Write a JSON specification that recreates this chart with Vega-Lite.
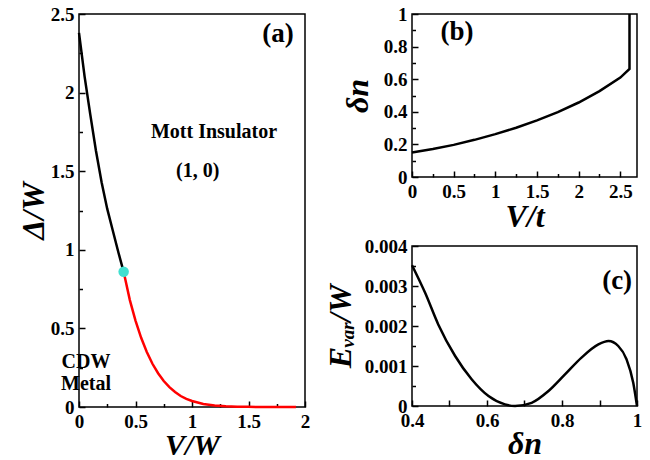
{
  "$schema": "https://vega.github.io/schema/vega-lite/v6.json",
  "background": "white",
  "padding": {"left": 16, "top": 4, "right": 6, "bottom": 0},
  "spacing": 12,
  "config": {
    "font": "Liberation Serif",
    "view": {"stroke": "black", "strokeWidth": 1.5},
    "axis": {"labelFont": "Liberation Serif", "labelFontSize": 19, "labelFontWeight": "bold", "labelColor": "black",
      "labelOverlap": false, "labelFlush": false, "labelPadding": 5, "tickSize": 6, "offset": -6, "tickColor": "black", "tickWidth": 1.5,
      "domain": false, "grid": false,
      "titleColor": "black", "titleFont": "Liberation Serif", "titleFontSize": 32, "titleFontWeight": "bold", "titleFontStyle": "italic"},
    "text": {"font": "Liberation Serif", "fontWeight": "bold", "color": "black"}
  },
  "hconcat": [
    {
      "width": 226,
      "height": 393,
      "resolve": {"axis": {"x": "independent", "y": "independent"}},
      "layer": [
        {
          "data": {"values": [
            {"v": 0, "d": 2.38}, {"v": 0.05, "d": 2.1}, {"v": 0.1, "d": 1.86}, {"v": 0.15, "d": 1.63},
            {"v": 0.2, "d": 1.43}, {"v": 0.25, "d": 1.26}, {"v": 0.3, "d": 1.12}, {"v": 0.35, "d": 0.98},
            {"v": 0.395, "d": 0.86}
          ]},
          "mark": {"type": "line", "color": "black", "strokeWidth": 2.5},
          "encoding": {
            "x": {"field": "v", "type": "quantitative", "scale": {"domain": [0, 2], "nice": false},
              "axis": {"title": "V/W", "orient": "bottom", "values": [0,0.5,1,1.5,2], "format": "~g", "titlePadding": -1, "titleFontSize": 30}},
            "y": {"field": "d", "type": "quantitative", "scale": {"domain": [0, 2.5], "nice": false},
              "axis": {"title": "Δ/W", "orient": "left", "values": [0,0.5,1,1.5,2,2.5], "format": "~g", "titlePadding": 0}}
          }
        },
        {
          "data": {"values": [
            {"v": 0.395, "d": 0.86}, {"v": 0.45, "d": 0.68}, {"v": 0.5, "d": 0.55}, {"v": 0.55, "d": 0.44},
            {"v": 0.6, "d": 0.35}, {"v": 0.65, "d": 0.275}, {"v": 0.7, "d": 0.215}, {"v": 0.75, "d": 0.165},
            {"v": 0.8, "d": 0.126}, {"v": 0.85, "d": 0.095}, {"v": 0.9, "d": 0.07}, {"v": 0.95, "d": 0.052},
            {"v": 1.0, "d": 0.038}, {"v": 1.1, "d": 0.019}, {"v": 1.2, "d": 0.009}, {"v": 1.3, "d": 0.004},
            {"v": 1.4, "d": 0.0018}, {"v": 1.5, "d": 0.0008}, {"v": 1.6, "d": 0.0003}, {"v": 1.75, "d": 0.0001},
            {"v": 1.92, "d": 0}
          ]},
          "mark": {"type": "line", "color": "#ff0000", "strokeWidth": 2.5},
          "encoding": {
            "x": {"field": "v", "type": "quantitative",
              "axis": {"title": null, "orient": "bottom", "values": [0.25,0.75,1.25,1.75], "labels": false, "tickSize": 3.5, "offset": -3.5}},
            "y": {"field": "d", "type": "quantitative",
              "axis": {"title": null, "orient": "left", "values": [0.25,0.75,1.25,1.75,2.25], "labels": false, "tickSize": 3.5, "offset": -3.5}}
          }
        },
        {
          "data": {"values": [{"v": 0.395, "d": 0.86}]},
          "mark": {"type": "circle", "color": "#40e0d0", "opacity": 1, "size": 110},
          "encoding": {
            "x": {"field": "v", "type": "quantitative", "axis": null},
            "y": {"field": "d", "type": "quantitative", "axis": null}
          }
        },
        {
          "data": {"values": [
            {"v": 1.76, "d": 2.37, "t": "(a)", "s": 27, "a": "center"},
            {"v": 1.195, "d": 1.75, "t": "Mott Insulator", "s": 20, "a": "center"},
            {"v": 1.05, "d": 1.5, "t": "(1, 0)", "s": 20, "a": "center"},
            {"v": 0.062, "d": 0.286, "t": "CDW", "s": 20, "a": "left"},
            {"v": 0.062, "d": 0.146, "t": "Metal", "s": 20, "a": "left"}
          ]},
          "mark": {"type": "text", "baseline": "middle"},
          "encoding": {
            "x": {"field": "v", "type": "quantitative", "axis": null},
            "y": {"field": "d", "type": "quantitative", "axis": null},
            "text": {"field": "t"},
            "size": {"field": "s", "type": "quantitative", "scale": null},
            "align": {"field": "a", "type": "nominal", "scale": null}
          }
        }
      ]
    },
    {
      "spacing": 3,
      "vconcat": [
        {
          "width": 225,
          "height": 163,
          "resolve": {"axis": {"x": "independent", "y": "independent"}},
          "layer": [
            {
              "data": {"values": [
                {"i": 0, "v": 0, "n": 0.15}, {"i": 1, "v": 0.25, "n": 0.172}, {"i": 2, "v": 0.5, "n": 0.197},
                {"i": 3, "v": 0.75, "n": 0.228}, {"i": 4, "v": 1, "n": 0.263}, {"i": 5, "v": 1.25, "n": 0.302},
                {"i": 6, "v": 1.5, "n": 0.347}, {"i": 7, "v": 1.75, "n": 0.398}, {"i": 8, "v": 2, "n": 0.457},
                {"i": 9, "v": 2.25, "n": 0.527}, {"i": 10, "v": 2.5, "n": 0.61}, {"i": 11, "v": 2.61, "n": 0.663},
                {"i": 12, "v": 2.61, "n": 1.0}
              ]},
              "mark": {"type": "line", "color": "black", "strokeWidth": 2.5},
              "encoding": {
                "x": {"field": "v", "type": "quantitative", "scale": {"domain": [0, 2.7], "nice": false},
                  "axis": {"title": "V/t", "orient": "bottom", "values": [0,0.5,1,1.5,2,2.5], "format": "~g", "titlePadding": 0}},
                "y": {"field": "n", "type": "quantitative", "scale": {"domain": [0, 1], "nice": false},
                  "axis": {"title": "δn", "orient": "left", "values": [0,0.2,0.4,0.6,0.8,1], "format": "~g", "titlePadding": 9}},
                "order": {"field": "i", "type": "quantitative"}
              }
            },
            {
              "data": {"values": [{"v": 0.54, "n": 0.89, "t": "(b)"}]},
              "mark": {"type": "text", "baseline": "middle", "size": 27},
              "encoding": {
                "x": {"field": "v", "type": "quantitative",
                  "axis": {"title": null, "orient": "bottom", "values": [0.25,0.75,1.25,1.75,2.25], "labels": false, "tickSize": 3.5, "offset": -3.5}},
                "y": {"field": "n", "type": "quantitative",
                  "axis": {"title": null, "orient": "left", "values": [0.1,0.3,0.5,0.7,0.9], "labels": false, "tickSize": 3.5, "offset": -3.5}},
                "text": {"field": "t"}
              }
            }
          ]
        },
        {
          "width": 225,
          "height": 160,
          "resolve": {"axis": {"x": "independent", "y": "independent"}},
          "layer": [
            {
              "data": {"values": [
                {"x": 0.4, "e": 0.00352}, {"x": 0.435, "e": 0.00283}, {"x": 0.47, "e": 0.00204},
                {"x": 0.515, "e": 0.00125}, {"x": 0.559, "e": 0.00067}, {"x": 0.604, "e": 0.00025},
                {"x": 0.648, "e": 0.00004}, {"x": 0.675, "e": 0}, {"x": 0.719, "e": 0.00008},
                {"x": 0.764, "e": 0.000375}, {"x": 0.808, "e": 0.00079}, {"x": 0.852, "e": 0.00121},
                {"x": 0.897, "e": 0.00154}, {"x": 0.924, "e": 0.001625}, {"x": 0.95, "e": 0.0015},
                {"x": 0.972, "e": 0.00117}, {"x": 0.99, "e": 0.00058}, {"x": 1.0, "e": 0}
              ]},
              "mark": {"type": "line", "color": "black", "strokeWidth": 2.5, "interpolate": "monotone"},
              "encoding": {
                "x": {"field": "x", "type": "quantitative", "scale": {"domain": [0.4, 1], "nice": false},
                  "axis": {"title": "δn", "orient": "bottom", "values": [0.4,0.6,0.8,1], "format": "~g", "titlePadding": -2}},
                "y": {"field": "e", "type": "quantitative", "scale": {"domain": [0, 0.004], "nice": false},
                  "axis": {"title": "Eᵥₐᵣ/W", "orient": "left", "values": [0,0.001,0.002,0.003,0.004], "format": "~g", "titlePadding": 7}}
              }
            },
            {
              "data": {"values": [{"x": 0.947, "e": 0.003125, "t": "(c)"}]},
              "mark": {"type": "text", "baseline": "middle", "size": 27},
              "encoding": {
                "x": {"field": "x", "type": "quantitative",
                  "axis": {"title": null, "orient": "bottom", "values": [0.5,0.7,0.9], "labels": false, "tickSize": 6, "offset": -6}},
                "y": {"field": "e", "type": "quantitative",
                  "axis": {"title": null, "orient": "left", "values": [0.0005,0.0015,0.0025,0.0035], "labels": false, "tickSize": 3.5, "offset": -3.5}},
                "text": {"field": "t"}
              }
            }
          ]
        }
      ]
    }
  ]
}
